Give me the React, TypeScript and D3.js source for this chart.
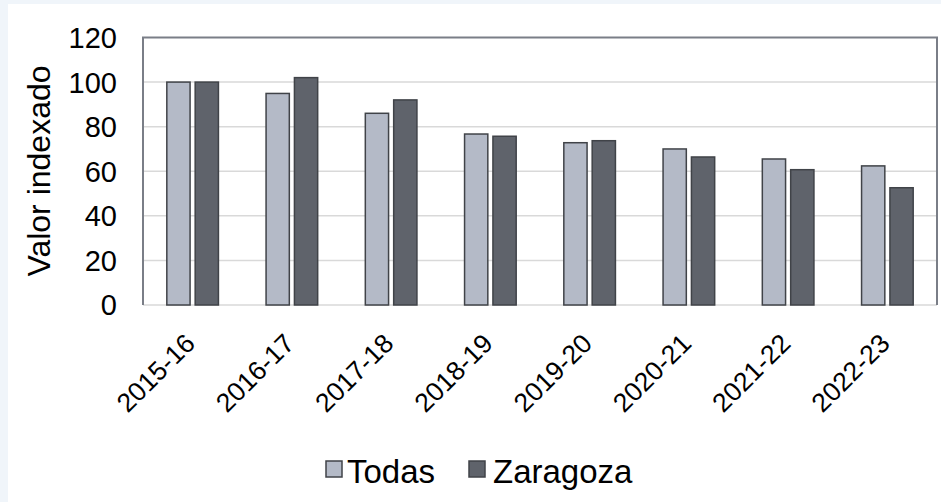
import React from 'react';
import * as d3 from 'd3';

const years = ['2015-16', '2016-17', '2017-18', '2018-19', '2019-20', '2020-21', '2021-22', '2022-23'];
const series = ['Todas', 'Zaragoza'];
const todas = [100, 94.9, 86, 76.7, 72.8, 70, 65.5, 62.4];
const zaragoza = [100, 102, 92, 75.7, 73.7, 66.4, 60.7, 52.6];
const yTicks = [0, 20, 40, 60, 80, 100, 120];

const colors: Record<string, string> = { Todas: '#b4bac7', Zaragoza: '#5f636b' };
const font = '"Liberation Sans", Arial, sans-serif';

const App = () => {
  const width = 941;
  const height = 502;
  const plot = { left: 143, right: 937, top: 37.5, bottom: 305 };

  const x0 = d3.scaleBand<string>().domain(years).range([plot.left, plot.right]).padding(0);
  const x1 = d3
    .scaleBand<string>()
    .domain(series)
    .range([0, x0.bandwidth()])
    .paddingInner(0.18)
    .paddingOuter(0.84);
  const y = d3.scaleLinear().domain([0, 120]).range([plot.bottom, plot.top]);

  const values: Record<string, number[]> = { Todas: todas, Zaragoza: zaragoza };

  return (
    <div style={{ position: 'absolute', left: 0, top: 0 }}>
      <svg width={width} height={height} style={{ display: 'block', fontFamily: font }}>
        <rect x={0} y={0} width={width} height={height} fill="#f0f5fa" />
        <rect x={8} y={4} width={width - 8} height={height - 4} fill="#ffffff" />

        {/* grid */}
        {yTicks.slice(1, -1).map((t) => (
          <line key={t} x1={plot.left} x2={plot.right} y1={y(t)} y2={y(t)} stroke="#d9d9d9" strokeWidth={1.5} />
        ))}
        <line x1={plot.left} x2={plot.right} y1={y(0)} y2={y(0)} stroke="#d9d9d9" strokeWidth={1.5} />

        {/* bars */}
        {years.map((yr, i) => (
          <g key={yr} transform={`translate(${x0(yr)},0)`}>
            {series.map((s) => (
              <rect
                key={s}
                x={x1(s)}
                y={y(values[s][i])}
                width={x1.bandwidth()}
                height={y(0) - y(values[s][i])}
                fill={colors[s]}
                stroke="#404348"
                strokeWidth={1.5}
              />
            ))}
          </g>
        ))}

        {/* plot border (left, top, right) */}
        <path
          d={`M${plot.left},${plot.bottom}V${plot.top}H${plot.right}V${plot.bottom}`}
          fill="none"
          stroke="#7a7e87"
          strokeWidth={2}
        />

        {/* y ticks */}
        {yTicks.map((t) => (
          <text key={t} x={117} y={y(t)} dy="0.36em" textAnchor="end" fontSize={29} fill="#000">
            {t}
          </text>
        ))}

        {/* y title */}
        <text
          transform={`translate(50,171) rotate(-90)`}
          textAnchor="middle"
          fontSize={32}
          fill="#000"
        >
          Valor indexado
        </text>

        {/* x labels */}
        {years.map((yr) => (
          <text
            key={yr}
            transform={`translate(${(x0(yr) ?? 0) + x0.bandwidth() / 2 + 4},345) rotate(-45)`}
            textAnchor="end"
            fontSize={26.5}
            fill="#000"
          >
            {yr}
          </text>
        ))}

        {/* legend */}
        <g>
          <rect x={326} y={461} width={16} height={16} fill={colors.Todas} stroke="#404348" strokeWidth={1.5} />
          <text x={347} y={483} fontSize={33} fill="#000">Todas</text>
          <rect x={469} y={461} width={16} height={16} fill={colors.Zaragoza} stroke="#404348" strokeWidth={1.5} />
          <text x={493} y={483} fontSize={33} fill="#000">Zaragoza</text>
        </g>
      </svg>
    </div>
  );
};

export default App;
